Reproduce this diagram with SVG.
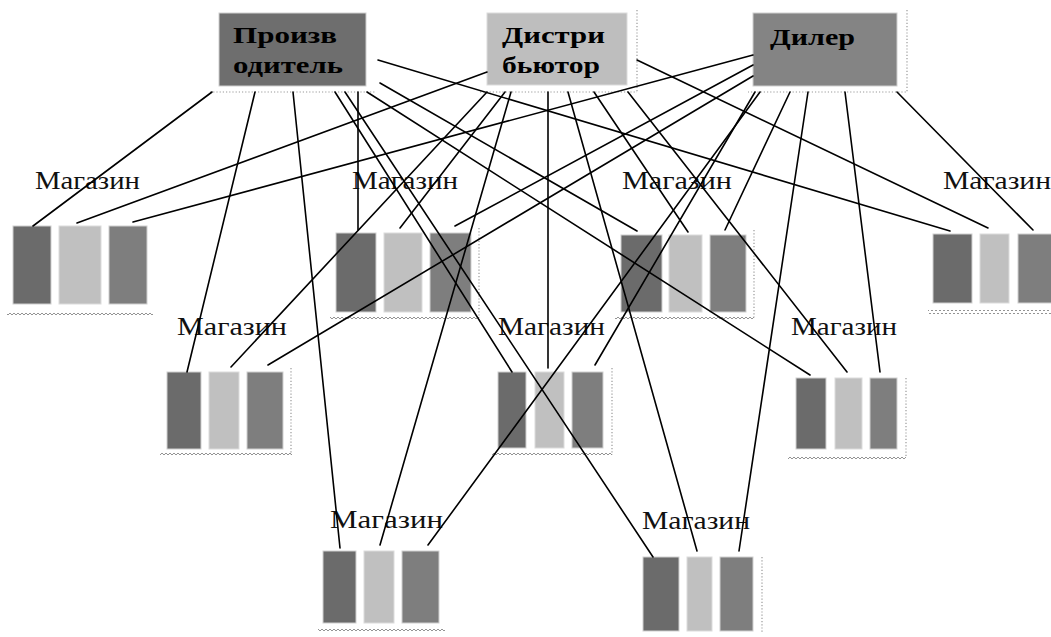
<svg xmlns="http://www.w3.org/2000/svg" width="1051" height="637" viewBox="0 0 1051 637">
<style>
.bg{fill:#ffffff}
.b1{fill:#6b6b6b;stroke:#d0d0d0;stroke-width:1}
.b2{fill:#c0c0c0;stroke:#dcdcdc;stroke-width:1}
.b3{fill:#7e7e7e;stroke:#d0d0d0;stroke-width:1}
.lbl{font-family:"Liberation Serif","Times New Roman",serif;font-size:26px;fill:#111}
.head{font-family:"Liberation Serif","Times New Roman",serif;font-size:24px;font-weight:bold;fill:#000}
.dot{fill:none;stroke:#999;stroke-width:1.2;stroke-dasharray:1.2,2}
.conn line{stroke:#000;stroke-width:1.6;stroke-linecap:round}
</style>
<defs>
<pattern id="wave" width="4" height="4" patternUnits="userSpaceOnUse">
<path d="M0,3 L2,1 L4,3" fill="none" stroke="#888" stroke-width="0.9"/>
</pattern>
</defs>
<rect class="bg" width="1051" height="637"/>

<g id="producer">
<rect x="219" y="13" width="147" height="73" fill="#6e6e6e" stroke="#cfcfcf"/>
<path class="dot" d="M210,92 H375"/>
<text class="head" x="233" y="43" textLength="104" lengthAdjust="spacingAndGlyphs">Произв</text>
<text class="head" x="233" y="73" textLength="110" lengthAdjust="spacingAndGlyphs">одитель</text>
</g>
<g id="distributor">
<rect x="487" y="13" width="140" height="72" fill="#bebebe" stroke="#dcdcdc"/>
<path class="dot" d="M637,10 V92 M480,92 H637"/>
<text class="head" x="502" y="43" textLength="103" lengthAdjust="spacingAndGlyphs">Дистри</text>
<text class="head" x="502" y="73" textLength="98" lengthAdjust="spacingAndGlyphs">бьютор</text>
</g>
<g id="dealer">
<rect x="753" y="13" width="144" height="73" fill="#848484" stroke="#cfcfcf"/>
<path class="dot" d="M907,10 V92 H748"/>
<text class="head" x="770" y="45" textLength="85" lengthAdjust="spacingAndGlyphs">Дилер</text>
</g>

<g id="storeA">
<text class="lbl" x="35" y="189" textLength="105" lengthAdjust="spacingAndGlyphs">Магазин</text>
<rect class="b1" x="13" y="226" width="38" height="78"/>
<rect class="b2" x="59" y="226" width="42" height="78"/>
<rect class="b3" x="109" y="226" width="38" height="78"/>
<rect x="7" y="311" width="146" height="4" fill="url(#wave)"/>
</g>
<g id="storeB">
<text class="lbl" x="352" y="189" textLength="106" lengthAdjust="spacingAndGlyphs">Магазин</text>
<rect class="b1" x="336" y="233" width="40" height="79"/>
<rect class="b2" x="384" y="233" width="38" height="79"/>
<rect class="b3" x="430" y="233" width="41" height="79"/>
<path class="dot" d="M479,228 V318"/>
<rect x="330" y="316" width="149" height="4" fill="url(#wave)"/>
</g>
<g id="storeC">
<text class="lbl" x="622" y="189" textLength="110" lengthAdjust="spacingAndGlyphs">Магазин</text>
<rect class="b1" x="621" y="235" width="41" height="77"/>
<rect class="b2" x="669" y="235" width="33" height="77"/>
<rect class="b3" x="710" y="235" width="36" height="77"/>
<path class="dot" d="M754,230 V318"/>
<rect x="615" y="316" width="139" height="4" fill="url(#wave)"/>
</g>
<g id="storeD">
<text class="lbl" x="943" y="189" textLength="108" lengthAdjust="spacingAndGlyphs">Магазин</text>
<rect class="b1" x="933" y="234" width="39" height="69"/>
<rect class="b2" x="980" y="234" width="29" height="69"/>
<rect class="b3" x="1018" y="234" width="34" height="69"/>
<rect x="928" y="310" width="123" height="4" fill="url(#wave)"/>
</g>
<g id="storeE">
<text class="lbl" x="177" y="335" textLength="110" lengthAdjust="spacingAndGlyphs">Магазин</text>
<rect class="b1" x="167" y="372" width="34" height="77"/>
<rect class="b2" x="209" y="372" width="30" height="77"/>
<rect class="b3" x="247" y="372" width="36" height="77"/>
<path class="dot" d="M291,368 V455"/>
<rect x="160" y="453" width="132" height="4" fill="url(#wave)"/>
</g>
<g id="storeF">
<text class="lbl" x="498" y="335" textLength="107" lengthAdjust="spacingAndGlyphs">Магазин</text>
<rect class="b1" x="498" y="372" width="28" height="76"/>
<rect class="b2" x="535" y="372" width="29" height="76"/>
<rect class="b3" x="572" y="372" width="31" height="76"/>
<path class="dot" d="M612,368 V455"/>
<rect x="492" y="453" width="120" height="4" fill="url(#wave)"/>
</g>
<g id="storeG">
<text class="lbl" x="791" y="335" textLength="106" lengthAdjust="spacingAndGlyphs">Магазин</text>
<rect class="b1" x="796" y="378" width="30" height="71"/>
<rect class="b2" x="835" y="378" width="27" height="71"/>
<rect class="b3" x="870" y="378" width="27" height="71"/>
<path class="dot" d="M906,378 V457"/>
<rect x="788" y="455" width="118" height="4" fill="url(#wave)"/>
</g>
<g id="storeH">
<text class="lbl" x="330" y="528" textLength="113" lengthAdjust="spacingAndGlyphs">Магазин</text>
<rect class="b1" x="323" y="551" width="33" height="72"/>
<rect class="b2" x="364" y="551" width="30" height="72"/>
<rect class="b3" x="402" y="551" width="37" height="72"/>
<rect x="318" y="628" width="127" height="4" fill="url(#wave)"/>
</g>
<g id="storeI">
<text class="lbl" x="642" y="529" textLength="108" lengthAdjust="spacingAndGlyphs">Магазин</text>
<rect class="b1" x="643" y="557" width="36" height="74"/>
<rect class="b2" x="687" y="557" width="25" height="74"/>
<rect class="b3" x="720" y="557" width="33" height="74"/>
<path class="dot" d="M762,557 V632"/>
</g>

<g id="connectors" class="conn">
<line x1="212" y1="92" x2="33" y2="226"/>
<line x1="255" y1="92" x2="187" y2="372"/>
<line x1="293" y1="92" x2="340" y2="548"/>
<line x1="358" y1="92" x2="358" y2="230"/>
<line x1="335" y1="92" x2="512" y2="372"/>
<line x1="345" y1="92" x2="653" y2="557"/>
<line x1="378" y1="60" x2="950" y2="231"/>
<line x1="380" y1="83" x2="637" y2="231"/>
<line x1="367" y1="92" x2="810" y2="375"/>
<line x1="487" y1="72" x2="77" y2="223"/>
<line x1="505" y1="92" x2="400" y2="228"/>
<line x1="594" y1="92" x2="688" y2="232"/>
<line x1="637" y1="60" x2="988" y2="228"/>
<line x1="487" y1="92" x2="231" y2="367"/>
<line x1="548" y1="92" x2="548" y2="368"/>
<line x1="628" y1="92" x2="847" y2="372"/>
<line x1="511" y1="92" x2="380" y2="545"/>
<line x1="568" y1="92" x2="697" y2="551"/>
<line x1="753" y1="55" x2="133" y2="222"/>
<line x1="753" y1="65" x2="455" y2="226"/>
<line x1="790" y1="92" x2="725" y2="230"/>
<line x1="897" y1="92" x2="1033" y2="230"/>
<line x1="753" y1="76" x2="268" y2="365"/>
<line x1="755" y1="92" x2="595" y2="365"/>
<line x1="845" y1="92" x2="880" y2="372"/>
<line x1="760" y1="92" x2="428" y2="545"/>
<line x1="808" y1="92" x2="739" y2="551"/>
</g>
</svg>
